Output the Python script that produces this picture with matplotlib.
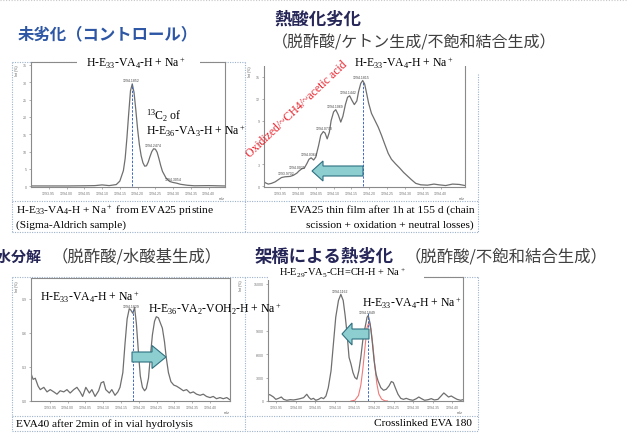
import matplotlib
matplotlib.use("Agg")
import matplotlib.pyplot as plt
from matplotlib.patches import FancyArrow, Rectangle

plt.rcParams['font.family'] = ['Liberation Serif', 'DejaVu Sans']
plt.rcParams['mathtext.fontset'] = 'custom'
plt.rcParams['mathtext.rm'] = 'Liberation Serif'
plt.rcParams['mathtext.default'] = 'regular'

# ---- data ----
# pristine EVA25
mz1 = [1293.900, 1293.95, 1294.00, 1294.05, 1294.08, 1294.10, 1294.12, 1294.14, 1294.15,
       1294.16, 1294.165, 1294.17, 1294.175, 1294.18, 1294.185, 1294.19, 1294.195, 1294.20,
       1294.205, 1294.21, 1294.215, 1294.22, 1294.225, 1294.23, 1294.235, 1294.24, 1294.245,
       1294.25, 1294.255, 1294.26, 1294.265, 1294.27, 1294.28, 1294.29, 1294.30, 1294.31,
       1294.32, 1294.34, 1294.36, 1294.40, 1294.445]
int1 = [0.1, 0.1, 0.1, 0.15, 0.2, 0.4, 0.2, 0.5, 1.5,
        4.5, 8.0, 14.0, 21.0, 27.5, 29.5, 27.0, 22.0, 16.5,
        12.0, 8.8, 6.8, 5.8, 5.9, 7.0, 8.6, 10.0, 10.8,
        10.7, 9.8, 8.0, 6.0, 4.3, 2.4, 1.4, 1.1, 0.9,
        0.6, 0.3, 0.15, 0.2, 0.1]
peak_mz1 = [1294.1852, 1294.2474, 1294.3054]
peak_int1 = [29.5, 10.8, 1.1]

# EVA25 thin film, 1h at 155 C
mz2 = [1293.905, 1293.910, 1293.917, 1293.926, 1293.936, 1293.945, 1293.954, 1293.964,
       1293.978, 1293.987, 1293.997, 1294.003, 1294.011, 1294.018, 1294.025, 1294.031,
       1294.037, 1294.044, 1294.050, 1294.058, 1294.064, 1294.071, 1294.076, 1294.082,
       1294.088, 1294.093, 1294.100, 1294.106, 1294.113, 1294.120, 1294.126, 1294.133,
       1294.139, 1294.145, 1294.151, 1294.158, 1294.165, 1294.170, 1294.176, 1294.1815,
       1294.187, 1294.193, 1294.198, 1294.206, 1294.215, 1294.225, 1294.234, 1294.243,
       1294.253, 1294.262, 1294.273, 1294.285, 1294.296, 1294.307, 1294.318, 1294.330,
       1294.344, 1294.363, 1294.381, 1294.395, 1294.414, 1294.433, 1294.452, 1294.468]
int2 = [0.6, 0.45, 0.3, 0.4, 0.6, 0.9, 1.2, 1.3,
        1.35, 1.5, 1.8, 2.1, 2.4, 2.5, 3.1, 3.7,
        3.9, 3.6, 4.0, 5.6, 7.0, 7.5, 7.3, 6.5,
        7.4, 9.0, 10.2, 10.5, 9.8, 8.8, 9.6, 11.2,
        12.2, 12.4, 11.8, 11.2, 11.7, 13.0, 14.1, 14.5,
        14.0, 12.6, 11.4, 10.0, 9.1, 8.1, 7.0, 5.8,
        4.5, 3.7, 3.1, 2.5, 1.9, 1.4, 0.9, 0.4,
        0.2, 0.15, 0.3, 0.2, 0.1, 0.3, 0.25, 0.1]
peak_mz2 = [1293.9702, 1294.0025, 1294.0364, 1294.0770, 1294.1069, 1294.1442, 1294.1815]
peak_int2 = [1.3, 2.1, 3.9, 7.5, 10.5, 12.4, 14.5]

# EVA40 after 2 min in-vial hydrolysis
mz3 = [1293.897, 1293.903, 1293.909, 1293.917, 1293.923, 1293.933, 1293.942, 1293.951,
       1293.961, 1293.970, 1293.979, 1293.989, 1293.998, 1294.007, 1294.017, 1294.026,
       1294.035, 1294.042, 1294.051, 1294.061, 1294.068, 1294.077, 1294.087, 1294.094,
       1294.101, 1294.107, 1294.117, 1294.124, 1294.133, 1294.141, 1294.147, 1294.155,
       1294.161, 1294.167, 1294.173, 1294.177, 1294.183, 1294.188, 1294.193, 1294.199,
       1294.204, 1294.210, 1294.216, 1294.221, 1294.227, 1294.232, 1294.238, 1294.244,
       1294.249, 1294.255, 1294.261, 1294.266, 1294.272, 1294.277, 1294.283, 1294.290,
       1294.298, 1294.306, 1294.316, 1294.325, 1294.334, 1294.344, 1294.353, 1294.362,
       1294.372, 1294.381, 1294.390, 1294.400, 1294.409, 1294.418, 1294.428, 1294.437,
       1294.447, 1294.456]
int3 = [0.24, 0.19, 0.20, 0.13, 0.10, 0.12, 0.08, 0.10,
        0.08, 0.06, 0.09, 0.08, 0.10, 0.07, 0.10, 0.12,
        0.08, 0.04, 0.12, 0.07, 0.10, 0.04, 0.09, 0.16,
        0.17, 0.10, 0.07, 0.10, 0.05, 0.08, 0.12, 0.25,
        0.50, 0.72, 0.81, 0.80, 0.77, 0.82, 0.68, 0.42,
        0.22, 0.12, 0.09, 0.11, 0.20, 0.38, 0.58, 0.70,
        0.74, 0.73, 0.68, 0.64, 0.52, 0.38, 0.25, 0.17,
        0.14, 0.13, 0.11, 0.09, 0.10, 0.07, 0.08, 0.06,
        0.05, 0.06, 0.04, 0.03, 0.04, 0.02, 0.03, 0.02,
        0.03, 0.01]
peak_mz3 = [1294.1829]
peak_int3 = [0.80]

# crosslinked EVA 180
mz4 = [1293.929, 1293.935, 1293.943, 1293.949, 1293.956, 1293.963, 1293.969, 1293.977,
       1293.986, 1293.994, 1294.003, 1294.011, 1294.020, 1294.028, 1294.034, 1294.039,
       1294.045, 1294.051, 1294.058, 1294.065, 1294.071, 1294.077, 1294.083, 1294.090,
       1294.096, 1294.102, 1294.109, 1294.115, 1294.121, 1294.126, 1294.131, 1294.136,
       1294.141, 1294.146, 1294.151, 1294.156, 1294.161, 1294.166, 1294.171, 1294.177,
       1294.182, 1294.185, 1294.190, 1294.195, 1294.200, 1294.205, 1294.210, 1294.217,
       1294.224, 1294.231, 1294.238, 1294.244, 1294.249, 1294.254, 1294.261, 1294.268,
       1294.275, 1294.282, 1294.291, 1294.299, 1294.308, 1294.314, 1294.321, 1294.329,
       1294.338, 1294.346, 1294.354, 1294.363, 1294.371, 1294.378, 1294.384, 1294.390,
       1294.397, 1294.404, 1294.412, 1294.421, 1294.427]
int4 = [860, 770, 510, 210, 340, 510, 210, 90,
        170, 130, 210, 300, 430, 860, 430, 210,
        340, 90, 210, 430, 300, 640, 1710, 3860,
        7290, 10710, 12860, 13630, 12860, 10930, 8570, 5570,
        4710, 3640, 3000, 2790, 3860, 5570, 7710, 9430,
        10710, 10930, 9860, 7710, 5140, 3430, 2570, 1710,
        1370, 1500, 1930, 2490, 2360, 1710, 860, 340,
        210, 340, 170, 90, 300, 510, 300, 90,
        170, 300, 130, 210, 640, 1030, 770, 510,
        640, 430, 210, 90, 170]
fit_mz4 = [1294.141, 1294.151, 1294.160, 1294.166, 1294.171, 1294.177, 1294.182, 1294.187,
           1294.192, 1294.197, 1294.202, 1294.207, 1294.212, 1294.219, 1294.227, 1294.234]
fit_int4 = [0, 100, 700, 2000, 4000, 7000, 9400, 10070,
            9200, 7000, 4400, 2200, 900, 250, 30, 0]
peak_mz4 = [1294.1162, 1294.1849]
peak_int4 = [13630, 10930]

xtick_vals = [1293.95, 1294.00, 1294.05, 1294.10, 1294.15, 1294.20, 1294.25, 1294.30, 1294.35, 1294.40]

# ---- figure in pixel coordinates ----
W, H = 628, 439
fig = plt.figure(figsize=(W / 100, H / 100), dpi=100)

bg = fig.add_axes([0, 0, 1, 1])
bg.set_xlim(0, W)
bg.set_ylim(H, 0)
bg.axis('off')

dot = dict(color='#9db2cc', lw=0.8, ls=(0, (1, 1.2)))
bg.plot([0, W], [1, 1], color='#c8c8c8', lw=0.8, ls=(0, (1, 1.5)))
# table borders
bg.plot([12, 245], [63, 63], **dot)
for y in [202, 233, 278, 417, 432]:
    bg.plot([12, 478], [y, y], **dot)
for x in [12, 245, 478]:
    bg.plot([x, x], [63 if x < 400 else 75, 233], **dot)
    bg.plot([x, x], [278, 432], **dot)


def px_axes(l, t, r, b):
    return fig.add_axes([l / W, 1 - b / H, (r - l) / W, (b - t) / H])


def spectrum(ax, mz, inten, xlim, ylim, yticks, ylabels, pk_mz, pk_int,
             dash_x, dash_top, top=True, ylab_x=-0.06):
    ax.plot(mz, inten, color='#6f6f6f', lw=0.9)
    ax.vlines(dash_x, 0, dash_top, colors='#3d66c8', linestyles=(0, (2.5, 1.5)), lw=0.7)
    for m, i in zip(pk_mz, pk_int):
        ax.annotate(f'{m:.4f}', (m, i), xytext=(-1, 1.2), textcoords='offset points',
                    ha='center', va='bottom', fontsize=2.5, family='Liberation Sans',
                    color='#444444')
    ax.set_xlim(*xlim)
    ax.set_ylim(*ylim)
    ax.set_xticks(xtick_vals, labels=[f'{v:.2f}' for v in xtick_vals],
                  fontsize=2.6, family='Liberation Sans', color='#555555')
    ax.set_yticks(yticks, labels=ylabels, fontsize=2.6, family='Liberation Sans',
                  color='#555555')
    ax.tick_params(length=1.5, width=0.4, pad=1.2, colors='#777777')
    for s in ax.spines.values():
        s.set_color('#8a8a8a')
        s.set_linewidth(0.8)
    ax.spines['top'].set_visible(top)
    ax.text(1.0, -0.075, 'm/z', transform=ax.transAxes, ha='right', va='top',
            fontsize=2.6, family='Liberation Sans', color='#555555')
    ax.text(ylab_x, 0.98, 'Int (%)', transform=ax.transAxes, rotation=90, ha='right',
            va='top', fontsize=2.6, family='Liberation Sans', color='#555555')


ax1 = px_axes(31, 63, 225, 188)
spectrum(ax1, mz1, int1, (1293.900, 1294.446), (-0.2, 35.8),
         [0, 5, 10, 15, 20, 25, 30, 35], ['0', '5', '10', '15', '20', '25', '30', '35'],
         peak_mz1, peak_int1, peak_mz1[0], peak_int1[0])

ax2 = px_axes(264, 64, 465, 188)
spectrum(ax2, mz2, int2, (1293.905, 1294.468), (-0.1, 16.9),
         [0, 3, 6, 9, 12, 15], ['0', '3', '6', '9', '12', '15'],
         peak_mz2, peak_int2, peak_mz2[-1], peak_int2[-1], top=False)

ax3 = px_axes(31, 279, 230, 402)
spectrum(ax3, mz3, int3, (1293.897, 1294.456), (0, 1.08),
         [0, 0.3, 0.6, 0.9], ['0.0', '0.3', '0.6', '0.9'],
         peak_mz3, peak_int3, peak_mz3[0], peak_int3[0])

ax4 = px_axes(268, 278, 463, 402)
ax4.plot(fit_mz4, fit_int4, color='#f07878', lw=0.8)
spectrum(ax4, mz4, int4, (1293.929, 1294.427), (0, 15850),
         [0, 3000, 6000, 9000, 15000], ['0', '3000', '6000', '9000', '15000'],
         peak_mz4, peak_int4, peak_mz4[1], 11400, ylab_x=-0.13)

# ---- overlay: titles, labels, arrows ----
ov = fig.add_axes([0, 0, 1, 1], facecolor='none')
ov.set_xlim(0, W)
ov.set_ylim(H, 0)
ov.axis('off')

cjk = 'Noto Sans CJK JP'
navy = '#262758'
grey = '#404040'
ov.text(18, 34, '未劣化（コントロール）', family=cjk, fontsize=11.8, weight='bold',
        color='#2d57a5', va='center')
ov.text(274, 20, '熱酸化劣化', family=cjk, fontsize=12.5, weight='bold', color=navy, va='center')
ov.text(272, 43, '（脱酢酸/ケトン生成/不飽和結合生成）', family=cjk, fontsize=11.5,
        color=grey, va='center')
ov.text(42, 257, '加水分解', family=cjk, fontsize=10.8, weight='bold', color=navy,
        va='center', ha='right')
ov.text(52, 257, '（脱酢酸/水酸基生成）', family=cjk, fontsize=11.8, color=grey, va='center')
ov.text(255, 257, '架橋による熱劣化', family=cjk, fontsize=12.5, weight='bold', color=navy,
        va='center')
ov.text(405, 257, '（脱酢酸/不飽和結合生成）', family=cjk, fontsize=11.8, color=grey,
        va='center')

# white gaps behind the panel titles
ov.add_patch(Rectangle((77, 55), 123, 14, fc='white', ec='none'))
ov.add_patch(Rectangle((250, 54), 228, 13, fc='white', ec='none'))
ov.add_patch(Rectangle((268, 264), 156, 17, fc='white', ec='none'))

fs = 8.5
ov.text(136, 63, 'H-E$_{33}$-VA$_4$-H + Na$^+$', fontsize=fs, ha='center', va='center')
ov.text(146, 116, '$^{13}$C$_2$ of', fontsize=fs, va='center')
ov.text(146, 131, 'H-E$_{36}$-VA$_3$-H + Na$^+$', fontsize=fs, va='center')
ov.text(404, 63, 'H-E$_{33}$-VA$_4$-H + Na$^+$', fontsize=fs, ha='center', va='center')
ov.text(297, 110, 'Oxidized/~CH4/~acetic acid', fontsize=fs, color='#e8202a',
        rotation=43.5, ha='center', va='center', rotation_mode='anchor')
ov.text(40, 297, 'H-E$_{33}$-VA$_4$-H + Na$^+$', fontsize=fs, va='center')
ov.text(148, 309, 'H-E$_{36}$-VA$_2$-VOH$_2$-H + Na$^+$', fontsize=fs, va='center')
ov.text(342, 273, 'H-E$_{29}$-VA$_5$-CH=CH-H + Na$^+$', fontsize=7.5, ha='center', va='center')
ov.text(362, 303, 'H-E$_{33}$-VA$_4$-H + Na$^+$', fontsize=fs, va='center')

cf = 8.2
ov.text(16, 210, 'H-E$_{33}$-VA$_4$-H + Na$^+$ from EVA25 pristine', fontsize=cf, va='center')
ov.text(16, 225, '(Sigma-Aldrich sample)', fontsize=cf, va='center')
ov.text(474, 210, 'EVA25 thin film after 1h at 155 d (chain', fontsize=cf, va='center', ha='right')
ov.text(474, 225, 'scission + oxidation + neutral losses)', fontsize=cf, va='center', ha='right')
ov.text(16, 424, 'EVA40 after 2min of in vial hydrolysis', fontsize=cf, va='center')
ov.text(472, 424, 'Crosslinked EVA 180', fontsize=cf, va='center', ha='right')

arrow_style = dict(fc='#8dcfd0', ec='#2f7080', lw=0.8, length_includes_head=True)
ov.add_patch(FancyArrow(363, 172, -51, 0, width=10, head_width=20, head_length=11, **arrow_style))
ov.add_patch(FancyArrow(132, 358, 34, 0, width=10, head_width=23, head_length=14, **arrow_style))
ov.add_patch(FancyArrow(369, 335, -27, 0, width=10, head_width=22, head_length=10, **arrow_style))

fig.savefig('out.png', dpi=100)
